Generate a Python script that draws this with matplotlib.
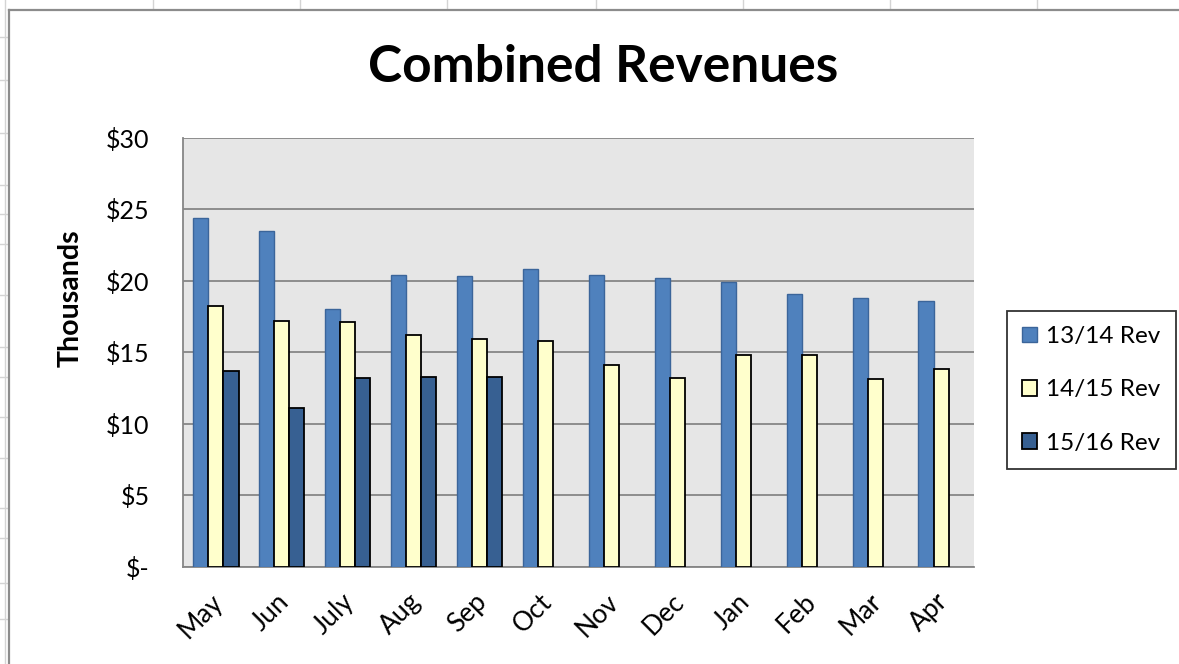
import numpy as np
import matplotlib
matplotlib.use("Agg")
import matplotlib.pyplot as plt
import matplotlib.transforms as mtransforms
from matplotlib.lines import Line2D

plt.rcParams['font.family'] = ['Lato', 'DejaVu Sans']

# data (thousands of $)
months = ["May", "Jun", "July", "Aug", "Sep", "Oct", "Nov", "Dec", "Jan", "Feb", "Mar", "Apr"]
rev_13_14 = [24.4, 23.5, 18.0, 20.4, 20.3, 20.8, 20.4, 20.2, 19.9, 19.1, 18.8, 18.6]
rev_14_15 = [18.2, 17.2, 17.1, 16.2, 15.9, 15.8, 14.1, 13.2, 14.8, 14.8, 13.1, 13.8]
rev_15_16 = [13.7, 11.1, 13.2, 13.3, 13.3, np.nan, np.nan, np.nan, np.nan, np.nan, np.nan, np.nan]
series_names = ["13/14 Rev", "14/15 Rev", "15/16 Rev"]
yticks = [0, 5, 10, 15, 20, 25, 30]
ytick_labels = ["$-", "$5", "$10", "$15", "$20", "$25", "$30"]

W, H = 1179, 664
fig = plt.figure(figsize=(W / 100, H / 100), dpi=100)

# spreadsheet grid peeking around the chart
for xp in [153, 300, 447, 596, 743, 890, 1037]:
    fig.add_artist(Line2D([xp / W, xp / W], [1, 1 - 9 / H], color="#d4d4d4", lw=1))
for yp in [37, 80, 133, 185, 214, 244, 295, 347, 377, 417, 458, 508, 538, 583, 619]:
    fig.add_artist(Line2D([0, 8 / W], [1 - yp / H, 1 - yp / H], color="#d4d4d4", lw=1))
fig.add_artist(Line2D([5 / W, 5 / W], [0, 1], color="#d4d4d4", lw=1))
# chart border
fig.add_artist(Line2D([9.5 / W, 9.5 / W], [0, 1 - 9.5 / H], color="#8c8c8c", lw=1.6))
fig.add_artist(Line2D([9.5 / W, 1], [1 - 9.5 / H, 1 - 9.5 / H], color="#8c8c8c", lw=1.6))

ax = fig.add_axes([183 / W, 1 - 566.7 / H, (974 - 183) / W, (566.7 - 137.7) / H])
ax.set_facecolor("#e6e6e6")

x = np.arange(len(months))
w = 0.228
b1 = ax.bar(x - w, rev_13_14, w, color="#4f81bd", edgecolor="#3b659a", lw=1, label=series_names[0], zorder=3)
b2 = ax.bar(x, rev_14_15, w, color="#ffffcc", edgecolor="black", lw=1.3, label=series_names[1], zorder=3)
b3 = ax.bar(x + w, rev_15_16, w, color="#376092", edgecolor="black", lw=1.3, label=series_names[2], zorder=3)

ax.set_xlim(-0.5, len(months) - 0.5)
ax.set_ylim(0, 30)
ax.set_yticks(yticks)
ax.set_yticklabels(ytick_labels, fontsize=18)
ax.yaxis.grid(True, color="#868686", lw=1.3, zorder=1)
ax.set_axisbelow(True)
ax.tick_params(axis="both", length=0)
ax.tick_params(axis="y", pad=24)
ax.set_xticks(x)
ax.set_xticklabels(months, rotation=45, ha="right", va="top", rotation_mode="anchor", fontsize=19)
ax.tick_params(axis="x", pad=16)
shift = mtransforms.ScaledTranslation(-6 / 100, 0, fig.dpi_scale_trans)
for lab in ax.get_xticklabels():
    lab.set_transform(lab.get_transform() + shift)
for s in ["top", "right"]:
    ax.spines[s].set_visible(False)
ax.spines["left"].set_color("#868686")
ax.spines["bottom"].set_color("#868686")
ax.spines["left"].set_linewidth(1.3)
ax.spines["bottom"].set_linewidth(1.3)

fig.text(603 / W, 1 - 68 / H, "Combined Revenues", fontsize=37, fontweight="bold",
         ha="center", va="center")
fig.text(71 / W, 1 - 298 / H, "Thousands", fontsize=20.5, fontweight="bold",
         rotation=90, ha="center", va="center")

leg = fig.legend(handles=[b1, b2, b3], loc="upper left",
                 bbox_to_anchor=(1007 / W, 1 - 311 / H), fontsize=17.5,
                 frameon=True, fancybox=False, edgecolor="black",
                 handlelength=0.6, handleheight=0.6, handletextpad=0.4,
                 labelspacing=1.33, borderpad=0.62, borderaxespad=0)
leg.get_frame().set_linewidth(1.3)

fig.savefig("out.png", dpi=100)
